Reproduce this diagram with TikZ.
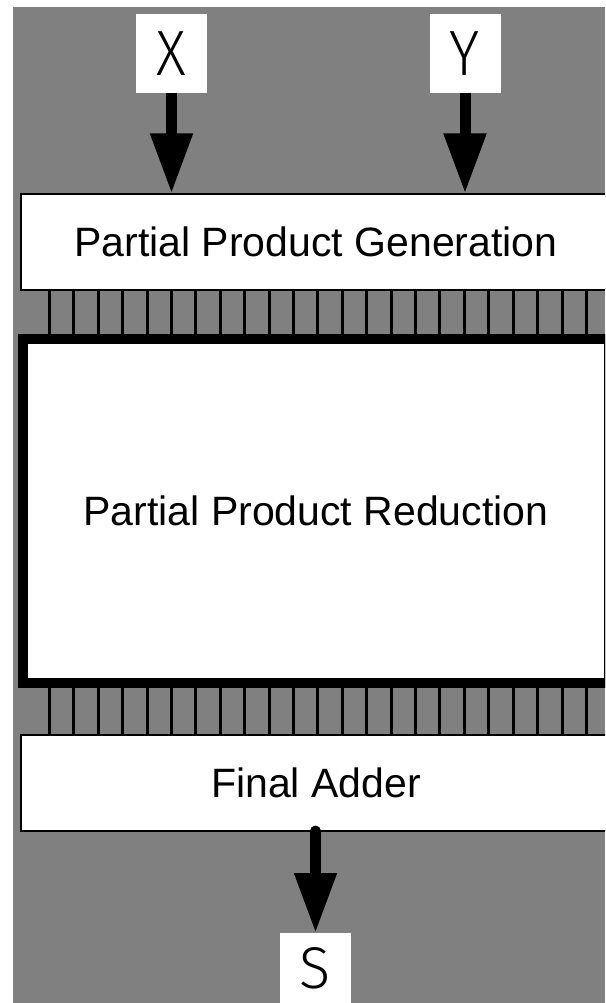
\documentclass[tikz,border=0pt]{standalone}
\usepackage{fontspec}
\setmainfont{Liberation Sans}
\newfontfamily\pinfont{Fira Sans}[UprightFont={* Light}]
\usetikzlibrary{arrows.meta, positioning, calc}

\begin{document}
\begin{tikzpicture}[
    x=1pt, y=-1pt,
    block/.style={rectangle, draw=black, fill=white, line width=2pt, outer sep=0pt, minimum width=590pt, minimum height=96pt, align=center, font=\fontsize{41}{49}\selectfont},
    bigblock/.style={block, line width=10pt, minimum width=586pt, minimum height=344pt},
    pin/.style={rectangle, fill=white, outer sep=0pt, minimum width=71pt, minimum height=79pt, inner sep=0pt, font=\pinfont\fontsize{64}{68}\selectfont},
    arrow/.style={-{Triangle[length=60pt, width=40pt]}, line width=11pt},
    bus/.style={line width=3pt}
]
    % Canvas
    \clip (0,0) rectangle (605,1003);
    \fill[gray] (12.5,7.5) rectangle (605,1003);

    % Blocks
    \node[block] (gen) at (316,241.5) {Partial Product Generation};
    \node[bigblock] (red) at (316,511) {Partial Product Reduction};
    \node[block] (add) at (316,783) {Final Adder};

    % Inputs and output
    \node[pin] (inX) at (171.5,53.5) {\scalebox{0.9}[1]{X}};
    \node[pin] (inY) at (465,53.5) {\scalebox{0.9}[1]{Y}};
    \node[pin, minimum height=70pt] (outS) at (315.5,968) {\raisebox{1pt}{\scalebox{0.9}[0.92]{S}}};

    % Arrows
    \draw[arrow] (inX.south) -- (inX.south |- gen.north);
    \draw[arrow] (inY.south) -- (inY.south |- gen.north);
    \draw[arrow, line cap=round] (outS.north |- add.south) -- (outS.north);

    % Buses between the blocks
    \foreach \k in {0,...,23} {
        \pgfmathsetmacro\bx{49.4+24.41*\k}
        \draw[bus] (\bx,0 |- gen.south) -- (\bx,0 |- red.north);
        \draw[bus] (\bx,0 |- red.south) -- (\bx,0 |- add.north);
    }
    \node[bigblock, fill=none, draw=black] at (red) {};

\end{tikzpicture}
\end{document}
